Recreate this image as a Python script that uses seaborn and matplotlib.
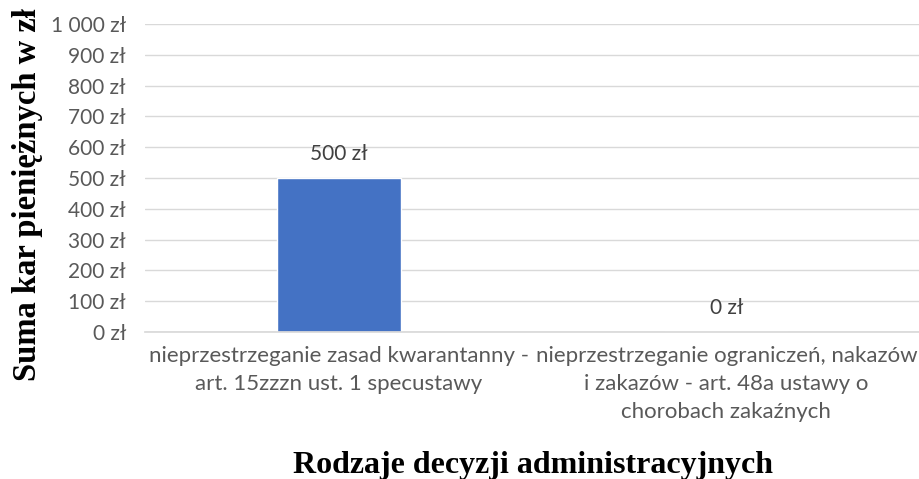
import pandas as pd
import matplotlib.pyplot as plt
import seaborn as sns

# categories and values
categories = [
    "nieprzestrzeganie zasad kwarantanny -\nart. 15zzzn ust. 1 specustawy",
    "nieprzestrzeganie ograniczeń, nakazów\ni zakazów - art. 48a ustawy o\nchorobach zakaźnych",
]
values = [500, 0]
y_ticks = [0, 100, 200, 300, 400, 500, 600, 700, 800, 900, 1000]


def fmt_zl(v):
    return f"{v:,.0f}".replace(",", " ") + " zł"


df = pd.DataFrame({"kategoria": categories, "suma": values})

sns.set_theme(style="white")
plt.rcParams["font.family"] = ["Lato", "DejaVu Sans"]

fig = plt.figure(figsize=(9.2, 4.79), dpi=100)
ax = fig.add_axes([0.158, 0.307, 0.842, 0.643])

sns.barplot(data=df, x="kategoria", y="suma", color="#4472C4", width=0.32,
            saturation=1, ax=ax)

ax.set_ylim(0, 1000)
ax.set_yticks(y_ticks)
ax.set_yticklabels([fmt_zl(v) for v in y_ticks])
ax.yaxis.grid(True, color="#D9D9D9", linewidth=1)
ax.set_axisbelow(True)
for s in ["left", "right", "top"]:
    ax.spines[s].set_visible(False)
ax.spines["bottom"].set_color("#D9D9D9")
ax.tick_params(axis="y", length=0, labelsize=15, colors="#595959", pad=14)
ax.tick_params(axis="x", length=0, labelsize=16, colors="#595959", pad=10)
for lbl in ax.get_xticklabels():
    lbl.set_linespacing(1.5)

for i, v in enumerate(values):
    ax.annotate(fmt_zl(v), (i, v), xytext=(0, 17), textcoords="offset points",
                ha="center", va="center", fontsize=15, color="#404040")

ax.set_xlabel("")
ax.set_ylabel("")
fig.text(0.030, 0.593, "Suma kar pieniężnych w zł", rotation=90,
         ha="center", va="center", family="Liberation Serif",
         fontweight="bold", fontsize=23.5, color="black")
fig.text(0.579, 0.029, "Rodzaje decyzji administracyjnych",
         ha="center", va="center", family="Liberation Serif",
         fontweight="bold", fontsize=23, color="black")

fig.savefig("out.png", dpi=100)
